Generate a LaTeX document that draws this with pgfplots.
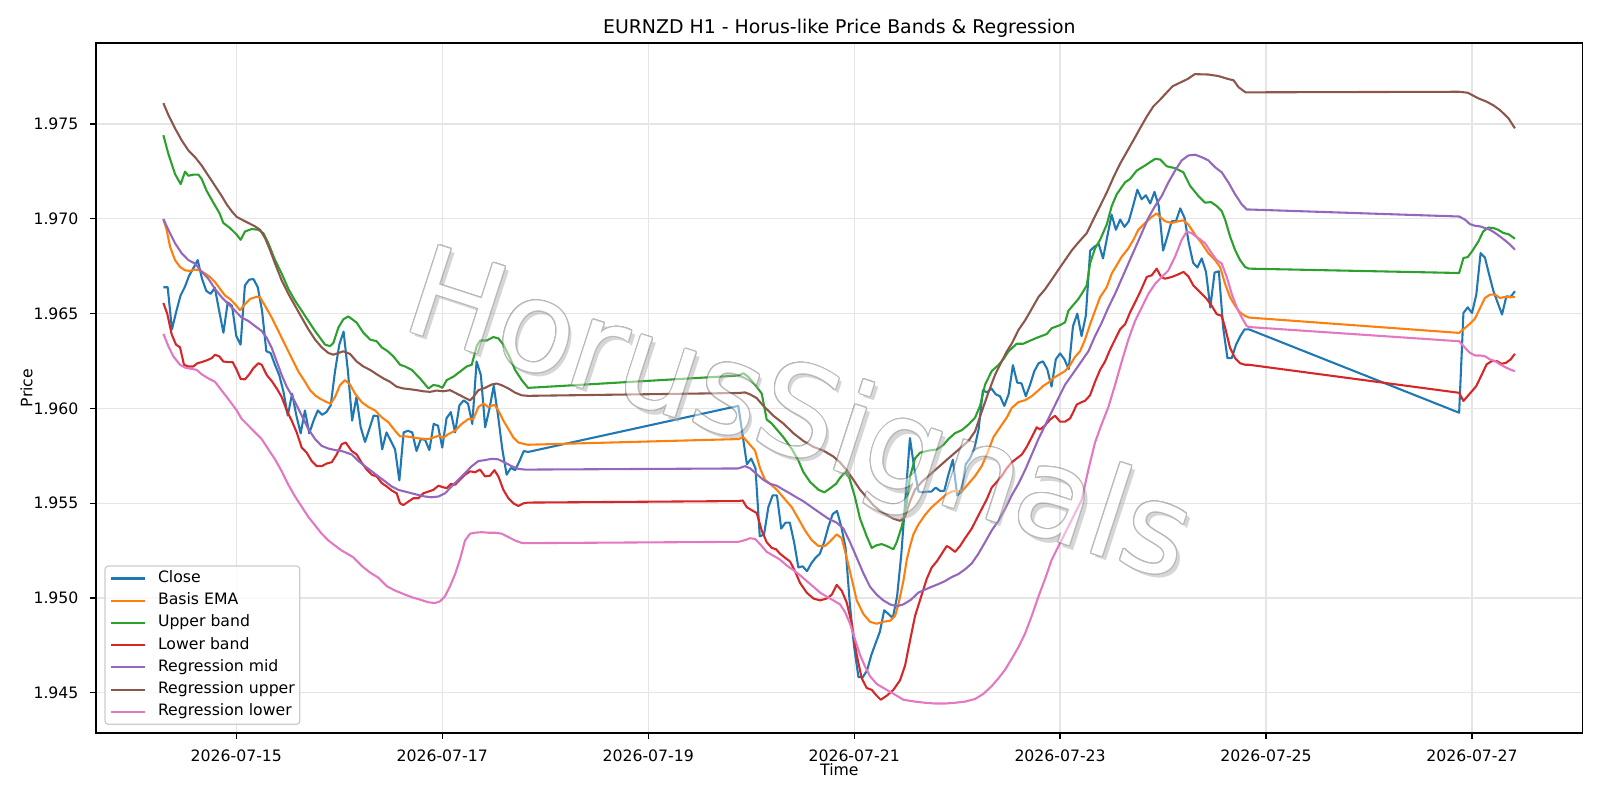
\documentclass[border=0pt]{standalone}
\usepackage{fontspec}
\setmainfont{DejaVu Sans}
\usepackage{pgfplots}
\pgfplotsset{compat=1.18}
\usepackage{contour}
\contourlength{0.75pt}
\contournumber{20}

% matplotlib tab10 palette
\definecolor{tabblue}{RGB}{31,119,180}
\definecolor{taborange}{RGB}{255,127,14}
\definecolor{tabgreen}{RGB}{44,160,44}
\definecolor{tabred}{RGB}{214,39,40}
\definecolor{tabpurple}{RGB}{148,103,189}
\definecolor{tabbrown}{RGB}{140,86,75}
\definecolor{tabpink}{RGB}{227,119,194}

\begin{document}
\begin{tikzpicture}
% x = hours since 2026-07-15 00:00 (H1 bars, weekend gaps bridged by straight segments)
\begin{axis}[
  name=ax,
  scale only axis,
  width=1070.4pt, height=496.8pt,
  xmin=-32.7, xmax=313.8,
  ymin=1.942874, ymax=1.979273,
  xtick={0,48,96,144,192,240,288},
  xticklabels={2026-07-15,2026-07-17,2026-07-19,2026-07-21,2026-07-23,2026-07-25,2026-07-27},
  ytick={1.945,1.95,1.955,1.96,1.965,1.97,1.975},
  yticklabels={1.945,1.950,1.955,1.960,1.965,1.970,1.975},
  scaled y ticks=false,
  tick pos=left, tick align=outside, major tick length=4pt,
  every tick/.style={black, line width=0.9pt},
  axis line style={line width=0.9pt},
  grid=major, major grid style={black!10, line width=0.9pt},
  ticklabel style={font=\fontsize{11.3}{13.5}\selectfont},
  xticklabel style={yshift=-4.9pt},
  yticklabel style={xshift=-5.1pt},
  every axis plot/.append style={line width=1.5pt, line join=round},
  no markers,
  legend cell align=left,
  legend image code/.code={\draw[#1, line width=1.5pt] (0pt,0pt) -- (24.5pt,0pt);},
  legend style={
    at={(0,0)}, anchor=south west, xshift=6pt, yshift=5.8pt,
    draw=black!20, line width=0.9pt, rounded corners=2.5pt,
    fill=white, fill opacity=0.8, text opacity=1,
    font=\fontsize{11.3}{13.5}\selectfont,
    inner xsep=3.6pt, inner ysep=1pt, row sep=0pt,
    nodes={inner xsep=0pt, inner ysep=3pt, text height=7.8pt, text depth=2.2pt},
    /tikz/every odd column/.append style={column sep=8.6pt}
  },
]

% Close
\addplot[tabblue] table {
t p
-17 1.96639
-16 1.96639
-15 1.96417
-14 1.96510
-13 1.96595
-12 1.96640
-11 1.96700
-10 1.96740
-9 1.96782
-8 1.96684
-7 1.96620
-6 1.96604
-5 1.96636
-4 1.96515
-3 1.96399
-2 1.96559
-1 1.96541
0 1.96381
1 1.96336
2 1.96648
3 1.96679
4 1.96682
5 1.96639
6 1.96515
7 1.96301
8 1.96292
9 1.96230
10 1.96176
11 1.96087
12 1.95962
13 1.96078
14 1.95962
15 1.95868
16 1.95989
17 1.95868
18 1.95935
19 1.95989
20 1.95966
21 1.95980
22 1.96016
23 1.96194
24 1.96336
25 1.96405
26 1.96200
27 1.95935
28 1.96060
29 1.95900
30 1.95823
31 1.95891
32 1.95962
33 1.95959
34 1.95784
35 1.95873
36 1.95829
37 1.95784
38 1.95620
39 1.95873
40 1.95882
41 1.95873
42 1.95775
43 1.95838
44 1.95834
45 1.95780
46 1.95918
47 1.95909
48 1.95793
49 1.95948
50 1.95980
51 1.95873
52 1.96016
53 1.96042
54 1.96025
55 1.95918
56 1.96247
57 1.96176
58 1.95900
59 1.95998
60 1.96119
61 1.95962
62 1.95784
63 1.95650
64 1.95686
65 1.95674
66 1.95722
67 1.95775
68 1.95770
117 1.96013
118 1.95860
119 1.95705
120 1.95735
121 1.95684
122 1.95325
123 1.95335
124 1.95479
125 1.95541
126 1.95541
127 1.95366
128 1.95397
129 1.95397
130 1.95294
131 1.95161
132 1.95167
133 1.95141
134 1.95182
135 1.95212
136 1.95233
137 1.95294
138 1.95376
139 1.95442
140 1.95459
141 1.95376
142 1.95264
143 1.94966
144 1.94740
145 1.94582
146 1.94582
147 1.94617
148 1.94699
149 1.94761
150 1.94822
151 1.94935
152 1.94915
153 1.94894
154 1.95007
155 1.95233
156 1.95541
157 1.95843
158 1.95684
159 1.95561
160 1.95557
161 1.95561
162 1.95561
163 1.95582
164 1.95565
165 1.95565
166 1.95653
167 1.95729
168 1.95541
169 1.95561
170 1.95705
171 1.95736
172 1.95787
173 1.95889
174 1.96095
175 1.96084
176 1.96105
177 1.96074
178 1.96064
179 1.96013
180 1.96074
181 1.96228
182 1.96136
183 1.96132
184 1.96064
185 1.96125
186 1.96197
187 1.96238
188 1.96248
189 1.96207
190 1.96115
191 1.96259
192 1.96290
193 1.96259
194 1.96207
195 1.96433
196 1.96500
197 1.96381
198 1.96490
199 1.96832
200 1.96853
201 1.96867
202 1.96791
203 1.96907
204 1.97022
205 1.96942
206 1.96996
207 1.96957
208 1.96987
209 1.97067
210 1.97153
211 1.97103
212 1.97124
213 1.97081
214 1.97142
215 1.97067
216 1.96832
217 1.96907
218 1.96987
219 1.96987
220 1.97055
221 1.97005
222 1.96871
223 1.96768
224 1.96743
225 1.96791
226 1.96720
227 1.96532
228 1.96716
229 1.96723
230 1.96426
231 1.96265
232 1.96265
233 1.96336
234 1.96381
235 1.96417
236 1.96417
285 1.95977
286 1.96503
287 1.96533
288 1.96503
289 1.96600
290 1.96819
291 1.96796
292 1.96705
293 1.96618
294 1.96556
295 1.96495
296 1.96591
297 1.96588
298 1.96618
};
\addlegendentry{Close}

% Basis EMA
\addplot[taborange] table {
t p
-17.0 1.96996
-16.23 1.96942
-15.45 1.96853
-14.28 1.96782
-13.12 1.96746
-11.95 1.96728
-10.79 1.96725
-9.62 1.96732
-8.46 1.96728
-7.29 1.96711
-6.13 1.96693
-4.96 1.96666
-3.79 1.96630
-2.63 1.96595
-1.46 1.96577
-0.3 1.96550
0.87 1.96518
2.03 1.96550
3.2 1.96577
4.75 1.96589
5.53 1.96586
6.7 1.96541
8.25 1.96479
9.8 1.96408
11.36 1.96336
12.91 1.96265
14.47 1.96194
16.02 1.96140
17.19 1.96096
18.35 1.96069
19.52 1.96051
21.07 1.96033
22.0 1.96025
23.01 1.96060
24.18 1.96123
25.34 1.96149
26.5 1.96126
27.67 1.96078
29.22 1.96033
30.78 1.96007
32.33 1.95989
33.89 1.95953
35.44 1.95927
37.0 1.95882
38.16 1.95852
39.71 1.95852
41.27 1.95846
42.82 1.95841
44.77 1.95838
45.93 1.95846
47.1 1.95855
48.26 1.95846
49.43 1.95864
50.98 1.95882
52.54 1.95918
54.09 1.95944
55.25 1.95944
56.42 1.96007
57.59 1.96025
58.75 1.96007
60.15 1.96019
61.08 1.95989
62.25 1.95935
63.41 1.95891
64.58 1.95846
65.74 1.95820
67.3 1.95811
68.0 1.95808
117.0 1.95838
118.18 1.95848
119.34 1.95818
120.9 1.95777
122.06 1.95684
123.23 1.95623
124.39 1.95602
125.95 1.95571
127.5 1.95530
129.44 1.95479
131.0 1.95418
132.55 1.95356
134.1 1.95305
135.66 1.95274
137.21 1.95274
138.38 1.95298
139.93 1.95335
141.1 1.95315
142.26 1.95212
143.43 1.95100
144.6 1.94987
146.15 1.94915
147.7 1.94874
149.26 1.94864
150.81 1.94874
152.37 1.94880
153.53 1.94905
154.31 1.94966
155.47 1.95089
156.25 1.95200
157.03 1.95274
157.8 1.95335
158.97 1.95387
160.52 1.95438
162.08 1.95479
163.63 1.95510
165.18 1.95541
166.74 1.95561
167.9 1.95565
169.07 1.95561
170.62 1.95602
172.18 1.95643
173.73 1.95695
175.29 1.95777
176.45 1.95848
178.0 1.95900
179.56 1.95951
180.72 1.96002
182.28 1.96033
183.83 1.96043
185.39 1.96064
186.94 1.96095
188.11 1.96119
189.27 1.96136
190.44 1.96160
191.99 1.96181
193.16 1.96197
194.32 1.96228
195.48 1.96272
196.65 1.96301
197.81 1.96363
198.98 1.96443
200.14 1.96515
201.31 1.96586
202.86 1.96639
204.03 1.96711
205.19 1.96755
206.36 1.96800
207.91 1.96844
209.08 1.96889
210.24 1.96942
211.8 1.96978
213.35 1.97010
214.52 1.97028
215.29 1.97010
216.46 1.96987
218.01 1.96978
219.57 1.96987
220.73 1.96992
221.9 1.96969
223.45 1.96916
225.01 1.96871
226.56 1.96818
228.11 1.96782
229.28 1.96746
230.45 1.96657
231.61 1.96586
232.78 1.96541
233.94 1.96506
235.11 1.96488
236.0 1.96479
285 1.96398
286.4 1.96425
287.5 1.96446
288.7 1.96474
289.9 1.96530
291.0 1.96582
292.2 1.96600
293.4 1.96600
294.5 1.96582
295.7 1.96588
296.9 1.96586
298 1.96588
};
\addlegendentry{Basis EMA}

% Upper band
\addplot[tabgreen] table {
t p
-17.0 1.97441
-15.84 1.97343
-14.28 1.97236
-12.96 1.97183
-11.95 1.97249
-11.18 1.97227
-10.0 1.97233
-8.84 1.97233
-8.07 1.97210
-6.9 1.97147
-5.35 1.97085
-3.95 1.97031
-3.02 1.96978
-1.46 1.96951
0.09 1.96916
1.02 1.96889
2.03 1.96933
3.59 1.96946
5.14 1.96942
6.31 1.96924
7.47 1.96871
9.03 1.96782
10.58 1.96711
12.13 1.96630
13.69 1.96568
15.24 1.96515
16.8 1.96461
18.35 1.96408
19.52 1.96372
20.68 1.96336
21.85 1.96328
22.62 1.96345
23.79 1.96426
24.95 1.96470
26.12 1.96485
28.06 1.96452
29.61 1.96399
31.17 1.96363
32.72 1.96354
33.89 1.96322
35.29 1.96301
36.61 1.96274
38.16 1.96230
39.33 1.96221
40.88 1.96203
42.82 1.96158
44.77 1.96105
45.93 1.96123
47.1 1.96119
48.03 1.96108
49.04 1.96149
50.59 1.96167
52.15 1.96194
53.7 1.96221
54.87 1.96230
56.03 1.96328
56.81 1.96358
58.36 1.96358
59.92 1.96376
61.08 1.96369
62.25 1.96336
63.8 1.96265
64.97 1.96203
66.52 1.96149
68.0 1.96108
117.0 1.96173
118.18 1.96185
119.34 1.96166
120.9 1.96125
122.45 1.96078
123.62 1.95941
124.78 1.95920
125.95 1.95889
127.5 1.95848
129.44 1.95787
131.0 1.95725
132.16 1.95664
133.72 1.95612
135.66 1.95571
137.06 1.95557
138.38 1.95578
139.78 1.95602
140.71 1.95633
141.88 1.95664
142.89 1.95633
144.21 1.95530
145.37 1.95418
146.93 1.95325
148.09 1.95264
149.26 1.95278
150.42 1.95284
151.59 1.95274
153.14 1.95257
153.92 1.95294
155.09 1.95376
156.25 1.95500
157.03 1.95640
158.19 1.95736
159.36 1.95766
161.3 1.95777
163.24 1.95783
164.8 1.95807
165.96 1.95838
167.51 1.95869
169.07 1.95885
170.62 1.95914
172.18 1.95951
173.34 1.96013
174.51 1.96125
176.06 1.96197
177.62 1.96228
178.78 1.96259
179.95 1.96300
181.89 1.96341
183.44 1.96341
185.0 1.96357
186.55 1.96372
188.88 1.96392
190.05 1.96423
191.99 1.96439
193.16 1.96454
193.93 1.96515
195.1 1.96546
196.26 1.96577
197.03 1.96604
198.2 1.96648
198.98 1.96764
200.14 1.96844
201.31 1.96889
202.86 1.96969
204.03 1.97067
205.19 1.97129
207.13 1.97192
208.3 1.97210
209.85 1.97254
211.8 1.97281
214.13 1.97316
215.29 1.97313
216.85 1.97277
218.79 1.97267
220.73 1.97245
222.29 1.97174
224.23 1.97120
225.78 1.97085
227.18 1.97088
228.5 1.97067
229.67 1.97040
230.45 1.96996
231.61 1.96907
232.78 1.96835
233.94 1.96782
235.11 1.96746
236.0 1.96737
285 1.96714
286 1.96793
287 1.96798
288 1.96828
289.5 1.96881
290.6 1.96933
291.8 1.96954
293 1.96951
294.1 1.96942
295.3 1.96925
296.5 1.96919
298 1.96895
};
\addlegendentry{Upper band}

% Lower band
\addplot[tabred] table {
t p
-17.0 1.96556
-16.07 1.96497
-15.06 1.96390
-14.05 1.96336
-13.12 1.96322
-12.19 1.96230
-11.18 1.96221
-10.01 1.96221
-9.08 1.96238
-8.07 1.96244
-6.9 1.96253
-5.74 1.96265
-4.96 1.96283
-3.95 1.96274
-3.02 1.96247
-1.85 1.96244
-0.84 1.96244
0.09 1.96203
1.02 1.96155
2.03 1.96153
3.04 1.96180
3.98 1.96212
5.14 1.96238
5.92 1.96230
7.09 1.96176
8.25 1.96144
9.42 1.96105
10.58 1.96060
11.75 1.95989
12.91 1.95935
14.08 1.95873
15.24 1.95793
16.41 1.95766
17.57 1.95722
18.74 1.95695
19.9 1.95695
21.07 1.95709
22.24 1.95716
23.4 1.95757
24.57 1.95811
25.5 1.95820
26.89 1.95775
28.06 1.95757
29.22 1.95713
30.39 1.95677
31.56 1.95650
32.72 1.95641
33.89 1.95606
35.05 1.95588
36.22 1.95567
37.38 1.95552
38.16 1.95499
38.94 1.95490
40.1 1.95508
41.27 1.95526
42.43 1.95526
43.6 1.95552
44.77 1.95561
45.93 1.95570
47.1 1.95592
48.03 1.95585
49.04 1.95579
50.05 1.95602
50.98 1.95597
52.15 1.95624
53.31 1.95650
54.48 1.95668
55.64 1.95663
56.81 1.95677
57.97 1.95641
59.14 1.95645
60.15 1.95674
61.08 1.95641
62.25 1.95570
63.41 1.95526
64.58 1.95499
65.74 1.95485
66.91 1.95499
68.0 1.95503
117.0 1.95511
118.02 1.95514
118.96 1.95479
120.12 1.95463
121.29 1.95448
122.45 1.95356
123.62 1.95294
124.78 1.95264
125.79 1.95257
126.72 1.95233
127.89 1.95212
129.06 1.95192
130.22 1.95141
131.39 1.95079
132.94 1.95028
134.5 1.94997
136.05 1.94987
137.6 1.94997
138.77 1.95017
139.93 1.95069
141.1 1.95038
142.26 1.94976
143.43 1.94864
144.6 1.94699
145.76 1.94576
146.93 1.94525
148.09 1.94515
149.26 1.94484
150.19 1.94463
151.59 1.94484
153.14 1.94515
154.7 1.94566
155.86 1.94643
157.03 1.94776
158.19 1.94905
159.75 1.95017
160.91 1.95100
162.08 1.95161
163.24 1.95192
164.41 1.95233
165.57 1.95274
166.35 1.95264
167.51 1.95243
168.68 1.95274
169.85 1.95315
171.4 1.95366
172.57 1.95418
173.73 1.95469
174.9 1.95520
176.06 1.95582
177.23 1.95612
178.39 1.95643
179.56 1.95684
180.72 1.95715
181.89 1.95736
183.06 1.95756
184.22 1.95797
185.39 1.95848
186.55 1.95900
187.33 1.95889
188.49 1.95910
189.66 1.95941
190.82 1.95961
191.99 1.95930
193.16 1.95930
194.32 1.95947
195.1 1.95982
195.87 1.96020
197.04 1.96033
197.81 1.96040
198.98 1.96069
200.14 1.96140
201.31 1.96203
202.47 1.96247
203.64 1.96310
204.8 1.96363
205.97 1.96417
207.13 1.96443
208.3 1.96506
209.47 1.96559
210.63 1.96613
212.19 1.96693
213.35 1.96702
214.52 1.96737
215.53 1.96693
216.46 1.96684
218.01 1.96693
219.57 1.96707
220.73 1.96720
221.9 1.96696
223.06 1.96648
224.62 1.96613
226.17 1.96577
227.34 1.96541
228.5 1.96497
229.67 1.96488
230.45 1.96426
231.61 1.96319
232.78 1.96265
233.94 1.96238
235.11 1.96230
236.0 1.96230
285 1.96082
286 1.96039
287 1.96065
288 1.96091
289 1.96118
290.3 1.96179
291.4 1.96232
292.6 1.96249
293.8 1.96249
294.9 1.96235
295.9 1.96240
297 1.96258
298 1.96288
};
\addlegendentry{Lower band}

% Regression mid
\addplot[tabpurple] table {
t p
-17.0 1.96999
-15.84 1.96942
-14.28 1.96871
-12.73 1.96818
-11.18 1.96782
-9.62 1.96764
-8.07 1.96720
-6.51 1.96684
-4.96 1.96630
-3.4 1.96586
-1.85 1.96550
-0.3 1.96515
1.26 1.96479
2.81 1.96461
4.37 1.96434
5.92 1.96408
7.09 1.96372
8.25 1.96319
9.42 1.96247
10.58 1.96176
11.75 1.96114
12.91 1.96069
14.08 1.96016
15.24 1.95962
16.8 1.95891
18.35 1.95838
19.9 1.95802
21.46 1.95788
23.01 1.95780
24.57 1.95775
26.89 1.95757
28.45 1.95722
30.0 1.95695
31.56 1.95668
33.11 1.95641
34.66 1.95615
36.22 1.95588
37.77 1.95570
39.33 1.95561
40.88 1.95552
42.43 1.95543
43.99 1.95535
45.54 1.95531
47.1 1.95535
48.65 1.95552
50.2 1.95588
51.76 1.95624
53.31 1.95659
54.87 1.95695
56.42 1.95722
57.97 1.95727
59.53 1.95734
61.08 1.95731
62.64 1.95713
64.19 1.95695
65.74 1.95681
67.3 1.95677
68.0 1.95677
117.0 1.95683
118.57 1.95695
119.73 1.95684
121.29 1.95653
122.84 1.95623
124.39 1.95602
125.95 1.95592
127.5 1.95571
129.06 1.95551
130.61 1.95530
132.16 1.95510
134.1 1.95479
136.05 1.95448
137.99 1.95418
139.93 1.95397
141.49 1.95366
143.04 1.95294
144.6 1.95212
146.15 1.95130
147.7 1.95059
149.26 1.95017
150.81 1.94987
152.37 1.94966
153.92 1.94956
155.47 1.94966
157.2 1.94990
158.97 1.95028
160.52 1.95044
162.08 1.95059
163.63 1.95073
165.18 1.95089
166.74 1.95110
168.29 1.95126
169.85 1.95151
171.4 1.95182
172.95 1.95233
174.51 1.95294
176.06 1.95356
177.62 1.95407
179.17 1.95469
180.72 1.95541
182.28 1.95602
183.83 1.95674
185.39 1.95756
186.94 1.95838
188.49 1.95910
190.05 1.95982
191.6 1.96054
193.16 1.96125
195.5 1.96200
198.59 1.96301
200.14 1.96381
201.7 1.96452
203.25 1.96532
204.8 1.96604
206.36 1.96684
207.91 1.96764
209.47 1.96844
211.02 1.96924
212.57 1.97005
214.13 1.97067
215.68 1.97120
217.24 1.97192
218.79 1.97254
220.34 1.97308
221.9 1.97334
223.45 1.97338
225.01 1.97325
226.56 1.97308
228.11 1.97272
229.67 1.97245
231.22 1.97192
232.78 1.97129
234.33 1.97076
235.5 1.97049
236.0 1.97049
285 1.97012
286.4 1.96995
287.5 1.96972
288.7 1.96963
289.9 1.96960
291.0 1.96951
292.2 1.96942
293.4 1.96925
294.5 1.96907
295.7 1.96886
296.9 1.96863
298 1.96837
};
\addlegendentry{Regression mid}

% Regression upper
\addplot[tabbrown] table {
t p
-17.0 1.97610
-15.84 1.97548
-14.28 1.97477
-12.73 1.97414
-11.18 1.97361
-9.62 1.97325
-8.07 1.97281
-6.51 1.97227
-4.96 1.97174
-3.4 1.97120
-2.24 1.97076
-1.07 1.97040
0.09 1.97010
1.26 1.96996
2.81 1.96978
4.37 1.96960
5.53 1.96942
6.7 1.96898
7.86 1.96835
9.03 1.96764
10.58 1.96675
12.13 1.96604
13.69 1.96541
15.24 1.96479
16.8 1.96417
18.35 1.96363
19.9 1.96322
21.46 1.96292
22.62 1.96283
23.79 1.96292
24.95 1.96301
26.5 1.96287
28.06 1.96247
29.61 1.96221
31.17 1.96203
32.72 1.96180
34.28 1.96158
35.83 1.96140
37.38 1.96114
38.94 1.96105
40.49 1.96101
42.05 1.96096
43.6 1.96090
45.15 1.96087
46.71 1.96094
48.26 1.96090
49.82 1.96096
51.37 1.96078
52.92 1.96060
54.48 1.96042
55.25 1.96060
56.42 1.96096
57.97 1.96108
59.53 1.96126
60.69 1.96131
61.86 1.96122
63.41 1.96105
64.97 1.96083
66.52 1.96069
68.0 1.96066
117.0 1.96081
118.57 1.96084
119.73 1.96074
121.29 1.96054
122.84 1.96013
125.17 1.95961
127.5 1.95920
129.83 1.95869
132.16 1.95828
134.5 1.95797
136.83 1.95777
139.16 1.95746
140.71 1.95715
142.26 1.95674
143.82 1.95623
145.37 1.95571
146.93 1.95530
148.48 1.95489
150.04 1.95459
151.59 1.95438
153.14 1.95418
154.7 1.95407
155.86 1.95428
157.03 1.95510
158.19 1.95571
159.75 1.95612
161.3 1.95643
162.85 1.95674
164.41 1.95705
165.96 1.95736
167.51 1.95766
169.07 1.95797
170.62 1.95828
172.18 1.95879
173.73 1.95982
175.29 1.96084
176.84 1.96177
178.39 1.96248
179.56 1.96300
180.72 1.96341
182.28 1.96413
183.83 1.96464
185.39 1.96525
186.94 1.96587
188.49 1.96628
190.05 1.96679
191.6 1.96731
193.16 1.96782
194.71 1.96833
195.88 1.96865
197.04 1.96895
198.2 1.96924
199.75 1.96996
201.31 1.97067
202.86 1.97138
204.42 1.97218
205.97 1.97290
207.52 1.97352
209.08 1.97414
210.63 1.97477
212.19 1.97539
213.74 1.97593
215.29 1.97628
218.2 1.97699
221.7 1.97737
223.4 1.97763
226.5 1.97761
228.9 1.97753
231.2 1.97737
232.4 1.97731
233.6 1.97694
235.2 1.97667
236.0 1.97667
285 1.97670
287 1.97665
288 1.97653
289.5 1.97635
291.4 1.97618
293 1.97598
294.5 1.97574
296.5 1.97530
298 1.97477
};
\addlegendentry{Regression upper}

% Regression lower
\addplot[tabpink] table {
t p
-17.0 1.96393
-15.84 1.96328
-14.67 1.96274
-13.12 1.96230
-11.95 1.96215
-10.4 1.96208
-9.23 1.96203
-8.07 1.96180
-6.51 1.96158
-4.96 1.96140
-3.79 1.96105
-2.24 1.96060
-1.07 1.96025
0.09 1.95989
1.26 1.95944
2.81 1.95909
4.37 1.95873
5.92 1.95838
7.47 1.95784
9.03 1.95731
10.58 1.95668
12.13 1.95597
13.69 1.95535
15.24 1.95481
16.8 1.95427
18.35 1.95383
19.9 1.95339
21.46 1.95303
23.01 1.95276
24.57 1.95250
25.34 1.95240
27.28 1.95214
29.22 1.95169
31.17 1.95134
33.11 1.95107
35.05 1.95062
37.0 1.95039
38.94 1.95021
40.88 1.95004
42.82 1.94991
44.77 1.94977
46.32 1.94973
47.48 1.94982
48.65 1.95009
49.82 1.95062
50.98 1.95125
52.15 1.95205
53.31 1.95303
54.48 1.95339
55.64 1.95344
57.2 1.95347
58.75 1.95344
60.3 1.95344
61.86 1.95339
63.41 1.95321
64.97 1.95303
66.52 1.95290
68.0 1.95289
117.0 1.95296
118.57 1.95305
119.73 1.95315
120.9 1.95311
122.06 1.95284
123.62 1.95243
125.17 1.95223
126.72 1.95202
128.28 1.95171
129.83 1.95147
131.39 1.95120
132.94 1.95089
134.5 1.95059
136.05 1.95028
137.6 1.95007
139.16 1.94987
140.71 1.94966
141.88 1.94925
143.04 1.94864
144.21 1.94781
145.37 1.94699
146.54 1.94638
147.7 1.94587
149.26 1.94546
150.81 1.94525
152.37 1.94505
153.92 1.94484
155.47 1.94463
158.19 1.94453
160.52 1.94447
162.85 1.94443
165.18 1.94443
167.51 1.94447
169.85 1.94453
172.18 1.94467
174.12 1.94494
176.06 1.94535
177.62 1.94576
179.17 1.94621
180.72 1.94679
182.28 1.94740
183.83 1.94812
185.39 1.94905
186.94 1.95007
188.49 1.95100
190.05 1.95202
197.03 1.95517
198.59 1.95677
200.14 1.95820
201.7 1.95918
203.25 1.96007
204.8 1.96123
206.36 1.96247
207.91 1.96363
209.47 1.96461
211.02 1.96532
212.57 1.96604
214.13 1.96657
215.68 1.96693
217.24 1.96728
218.79 1.96800
220.34 1.96889
221.51 1.96933
222.67 1.96924
224.23 1.96898
225.78 1.96871
227.34 1.96818
228.5 1.96782
229.67 1.96764
230.84 1.96693
232.0 1.96604
233.17 1.96532
234.33 1.96479
235.5 1.96434
236.0 1.96429
285 1.96354
286.4 1.96319
287.5 1.96293
288.7 1.96279
289.9 1.96279
291.0 1.96275
292.2 1.96258
293.4 1.96249
294.5 1.96232
295.7 1.96218
296.9 1.96205
298 1.96196
};
\addlegendentry{Regression lower}
\end{axis}

% watermark: white lettering with grey outline and soft drop shadow
\begin{scope}[shift={(ax.south west)}, transparency group, opacity=0.5]
  \node[rotate=-18, text=black!32, font=\fontsize{90}{90}\selectfont] at (508.2pt,221.1pt) {HorusSignals};
  \node[rotate=-18, font=\fontsize{90}{90}\selectfont] at (505.4pt,223.9pt) {\contour{black!55}{\textcolor{white}{HorusSignals}}};
\end{scope}

% titles
\node[anchor=base, font=\fontsize{13.6}{16}\selectfont] at ([yshift=7pt]ax.north) {EURNZD H1 - Horus-like Price Bands \& Regression};
\node[font=\fontsize{11.3}{13.5}\selectfont] at ([yshift=-26.6pt]ax.south) {Time};
\node[rotate=90, font=\fontsize{11.3}{13.5}\selectfont] at ([xshift=-50pt]ax.west) {Price};

\path[use as bounding box] ([xshift=-69.12pt,yshift=-48.24pt]ax.south west) rectangle ([xshift=12.46pt,yshift=30.96pt]ax.north east);
\end{tikzpicture}
\end{document}
